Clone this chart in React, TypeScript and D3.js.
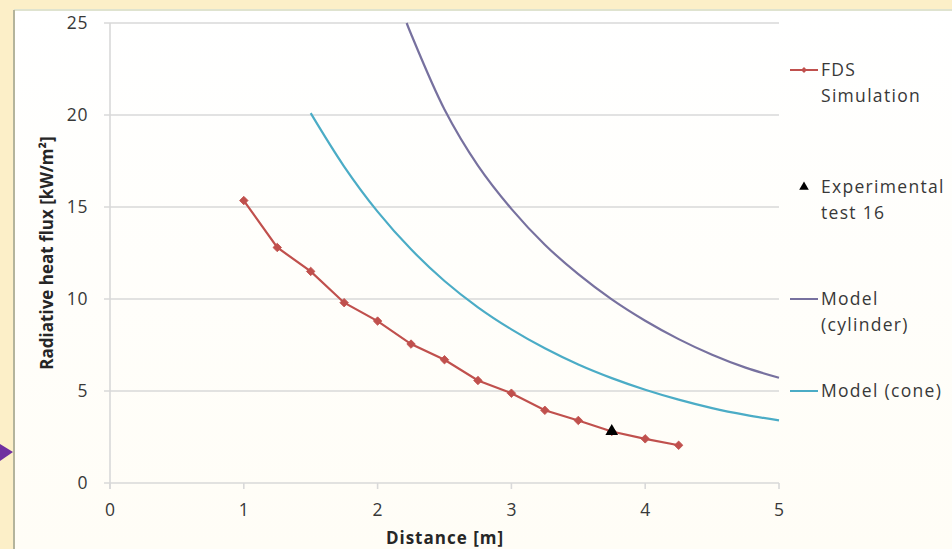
import React from "react";
import * as d3 from "d3";

const fdsX = [1, 1.25, 1.5, 1.75, 2, 2.25, 2.5, 2.75, 3, 3.25, 3.5, 3.75, 4, 4.25];
const fdsY = [15.35, 12.8, 11.5, 9.8, 8.8, 7.55, 6.7, 5.57, 4.88, 3.95, 3.4, 2.8, 2.4, 2.05];
const expX = [3.75];
const expY = [2.75];
const cylX = [2.217, 2.25, 2.5, 2.75, 3, 3.25, 3.5, 3.75, 4, 4.25, 4.5, 4.75, 5];
const cylY = [25, 24.4, 20.3, 17.25, 14.9, 12.95, 11.35, 9.98, 8.82, 7.82, 6.97, 6.27, 5.72];
const coneX = [1.5, 1.75, 2, 2.25, 2.5, 2.75, 3, 3.25, 3.5, 3.75, 4, 4.25, 4.5, 4.75, 5];
const coneY = [20.1, 17.2, 14.75, 12.7, 10.98, 9.55, 8.35, 7.32, 6.44, 5.7, 5.07, 4.53, 4.07, 3.7, 3.4];
const xTicks = [0, 1, 2, 3, 4, 5];
const yTicks = [0, 5, 10, 15, 20, 25];
const legendLabels = [["FDS", "Simulation"], ["Experimental", "test 16"], ["Model", "(cylinder)"], ["Model (cone)"]];
const xTitle = "Distance [m]";
const yTitle = "Radiative heat flux [kW/m²]";

const W = 952;
const H = 549;
const RED = "#c0504d";
const PURPLE = "#77719f";
const TEAL = "#4bacc6";
const TXT = "#383838";
const GRID = "#d9d9d9";
const FONT = "'Open Sans', sans-serif";

export default function App() {
  const x = d3.scaleLinear().domain([0, 5]).range([110, 779]);
  const y = d3.scaleLinear().domain([0, 25]).range([483, 23]);

  const zip = (xs: number[], ys: number[]) => xs.map((v, i) => [v, ys[i]] as [number, number]);
  const lin = d3.line<[number, number]>().x(d => x(d[0])).y(d => y(d[1]));
  const smooth = d3
    .line<[number, number]>()
    .x(d => x(d[0]))
    .y(d => y(d[1]))
    .curve(d3.curveCatmullRom.alpha(0.5));

  const fds = zip(fdsX, fdsY);
  const exp = zip(expX, expY);
  const cyl = zip(cylX, cylY);
  const cone = zip(coneX, coneY);

  const diamond = d3.symbol().type(d3.symbolSquare).size(36)() as string;
  const diamondSmall = d3.symbol().type(d3.symbolSquare).size(18)() as string;
  const tri = d3.symbol().type(d3.symbolTriangle).size(70)() as string;
  const triSmall = d3.symbol().type(d3.symbolTriangle).size(40)() as string;

  const lx0 = 790, lx1 = 818, ltx = 821;
  const legY = [70, 187, 299, 391];
  const lineGap = 26;

  return (
    <div style={{ position: "absolute", left: 0, top: 0, width: W, height: H }}>
      <svg width={W} height={H} style={{ display: "block" }}>
        <defs>
          <linearGradient id="panel" x1="0" y1="0" x2="0" y2="1">
            <stop offset="0" stopColor="#ffffff" />
            <stop offset="1" stopColor="#fffdf6" />
          </linearGradient>
          <clipPath id="plotclip">
            <rect x={110} y={22} width={672} height={462} />
          </clipPath>
        </defs>
        <rect x={0} y={0} width={W} height={H} fill="#fcefc8" />
        <rect x={14} y={10} width={W - 14} height={H - 10} fill="url(#panel)" />
        <line x1={14} y1={10} x2={W} y2={10} stroke="#dfe3cf" strokeWidth={2} />
        <line x1={14} y1={10} x2={14} y2={H} stroke="#b4b49c" strokeWidth={2} />
        {/* purple arrow */}
        <path d="M0,444 L13,452 L0,461 Z" fill="#7030a0" />

        {/* gridlines */}
        {yTicks.map(t => (
          <line key={"g" + t} x1={104} x2={779} y1={y(t)} y2={y(t)} stroke={GRID} strokeWidth={1.6} />
        ))}
        <line x1={110} x2={110} y1={y(25)} y2={y(0) + 6} stroke={GRID} strokeWidth={1.6} />
        {xTicks.map(t => (
          <line key={"xt" + t} x1={x(t)} x2={x(t)} y1={y(0)} y2={y(0) + 6} stroke={GRID} strokeWidth={1.6} />
        ))}

        {/* tick labels */}
        {yTicks.map(t => (
          <text key={"yl" + t} x={88} y={y(t)} dy="0.35em" textAnchor="end" fontFamily={FONT} fontSize={17.5} letterSpacing={0.6} fill={TXT}>
            {t}
          </text>
        ))}
        {xTicks.map(t => (
          <text key={"xl" + t} x={x(t)} y={510} dy="0.35em" textAnchor="middle" fontFamily={FONT} fontSize={17.5} fill={TXT}>
            {t}
          </text>
        ))}

        {/* axis titles */}
        <text x={445} y={538} dy="0.35em" textAnchor="middle" fontFamily={FONT} fontWeight="bold" fontSize={17} letterSpacing={1} fill="#262626">
          {xTitle}
        </text>
        <text transform={`translate(47,253) rotate(-90)`} dy="0.35em" textAnchor="middle" fontFamily={FONT} fontWeight="bold" fontSize={17} fill="#262626">
          {yTitle}
        </text>

        {/* series */}
        <g clipPath="url(#plotclip)">
          <path d={smooth(cyl) as string} fill="none" stroke={PURPLE} strokeWidth={2.2} />
          <path d={smooth(cone) as string} fill="none" stroke={TEAL} strokeWidth={2.2} />
          <path d={lin(fds) as string} fill="none" stroke={RED} strokeWidth={2.2} />
          {fds.map((d, i) => (
            <path key={"fm" + i} d={diamond} transform={`translate(${x(d[0])},${y(d[1])}) rotate(45)`} fill={RED} stroke={RED} strokeWidth={0.8} />
          ))}
          {exp.map((d, i) => (
            <path key={"em" + i} d={tri} transform={`translate(${x(d[0])},${y(d[1]) - 1})`} fill="#000" />
          ))}
        </g>

        {/* legend */}
        <line x1={lx0} x2={lx1} y1={legY[0]} y2={legY[0]} stroke={RED} strokeWidth={2} />
        <path d={diamondSmall} transform={`translate(${(lx0 + lx1) / 2},${legY[0]}) rotate(45)`} fill={RED} />
        <path d={triSmall} transform={`translate(804,${legY[1]})`} fill="#000" />
        <line x1={lx0} x2={lx1} y1={legY[2]} y2={legY[2]} stroke={PURPLE} strokeWidth={2} />
        <line x1={lx0} x2={lx1} y1={legY[3]} y2={legY[3]} stroke={TEAL} strokeWidth={2} />
        {legendLabels.map((lines, i) => (
          <text key={"lg" + i} fontFamily={FONT} fontSize={17.5} letterSpacing={1.3} fill={TXT}>
            {lines.map((s, j) => (
              <tspan key={j} x={ltx} y={legY[i] + j * lineGap} dy="0.35em">
                {s}
              </tspan>
            ))}
          </text>
        ))}
      </svg>
    </div>
  );
}
